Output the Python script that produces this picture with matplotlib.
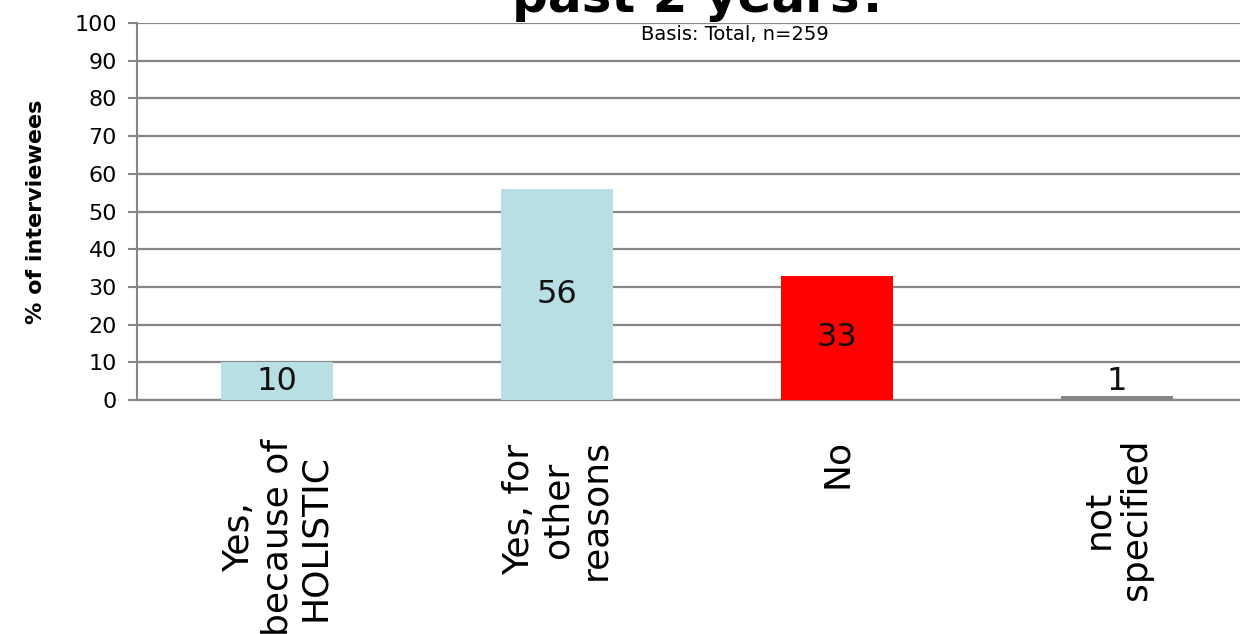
import matplotlib.pyplot as plt
import numpy as np

# Datos del grafico
categorias = ['Yes,\nbecause of\nHOLISTIC', 'Yes, for\nother\nreasons', 'No', 'not\nspecified']
valores = [10, 56, 33, 1]
colores = ['#b8dfe3', '#b8dfe3', '#ff0000', '#858585']
yticks = list(range(0, 101, 10))

plt.rcParams['font.family'] = ['DejaVu Sans']

fig = plt.figure(figsize=(12.4, 6.34), dpi=100)
ax = fig.add_axes([137 / 1240, 234 / 634, 1120 / 1240, 377 / 634])

x = np.arange(len(categorias))
ax.bar(x, valores, width=0.4, color=colores, zorder=3)

# Etiquetas de valor
for xi, v in zip(x, valores):
    ax.text(xi, max(v / 2, 5), str(v), ha='center', va='center',
            fontsize=23, color='#111111', zorder=4)

ax.set_xlim(-0.5, 3.5)
ax.set_ylim(0, 100)
ax.set_yticks(yticks)
ax.tick_params(axis='y', labelsize=16, length=6.5, width=1.5, color='#868686', pad=8)
ax.set_xticks(x)
ax.set_xticklabels(categorias, rotation=90, fontsize=26, ha='center', va='top',
                   multialignment='center', linespacing=1.15)
ax.tick_params(axis='x', length=0, pad=28)

ax.grid(axis='y', color='#868686', linewidth=1.6, zorder=1)
for s in ['top', 'right']:
    ax.spines[s].set_visible(False)
ax.spines['left'].set_color('#868686')
ax.spines['left'].set_linewidth(1.5)
ax.spines['bottom'].set_color('#868686')
ax.spines['bottom'].set_linewidth(1.6)

ax.set_ylabel('% of interviewees', fontsize=16, fontweight='bold', labelpad=20)

fig.text(0.565, 1 - 12 / 634, 'past 2 years?', ha='center', va='baseline',
         fontsize=36, fontweight='bold')
fig.text(735 / 1240, 1 - 34 / 634, 'Basis: Total, n=259', ha='center', va='center',
         fontsize=14)

fig.savefig('out.png', dpi=100)
